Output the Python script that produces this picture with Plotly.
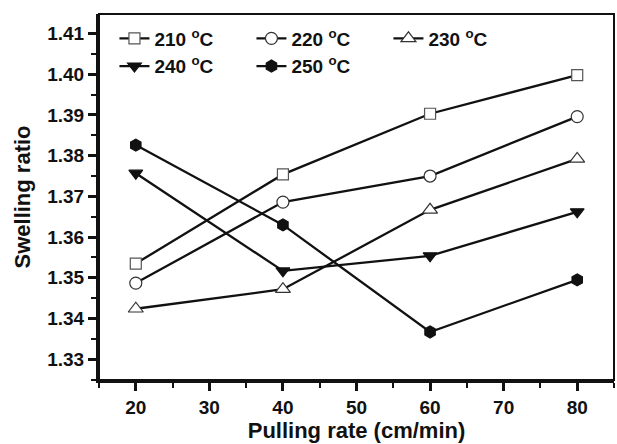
import plotly.graph_objects as go

# Pulling rate (cm/min) and swelling ratio at each die temperature
pulling_rate = [20, 40, 60, 80]
swell_210 = [1.3535, 1.3754, 1.3903, 1.3998]
swell_220 = [1.3487, 1.3686, 1.3750, 1.3896]
swell_230 = [1.3424, 1.3472, 1.3667, 1.3792]
swell_240 = [1.3757, 1.3517, 1.3554, 1.3662]
swell_250 = [1.3826, 1.3630, 1.3367, 1.3495]

series_names = ["210 <sup>o</sup>C", "220 <sup>o</sup>C", "230 <sup>o</sup>C",
                "240 <sup>o</sup>C", "250 <sup>o</sup>C"]
series_values = [swell_210, swell_220, swell_230, swell_240, swell_250]
symbols = ["square", "circle", "triangle-up", "triangle-down", "hexagon"]
fills = ["white", "white", "white", "#111111", "#111111"]
edges = ["#555555", "#333333", "#333333", "#111111", "#111111"]
sizes = [11, 12, 13, 12, 12]

x_ticks = [20, 30, 40, 50, 60, 70, 80]
y_ticks = [1.33, 1.34, 1.35, 1.36, 1.37, 1.38, 1.39, 1.40, 1.41]

FONT = "Liberation Sans, Arial, sans-serif"

fig = go.Figure()
for name, vals, sym, fc, ec, sz in zip(series_names, series_values, symbols, fills, edges, sizes):
    fig.add_trace(go.Scatter(
        x=pulling_rate, y=vals, name=name, mode="lines+markers",
        line=dict(color="#111111", width=2.3),
        marker=dict(symbol=sym, size=sz, color=fc, line=dict(color=ec, width=1.2)),
    ))

axis_common = dict(
    showgrid=False, zeroline=False, showline=True, linecolor="#111111", linewidth=3,
    ticks="outside", ticklen=8, tickwidth=2.5, tickcolor="#111111",
    tickfont=dict(family=FONT, size=19, color="#111111", weight="bold"),
)

fig.update_xaxes(
    range=[15, 85], tickvals=x_ticks, ticktext=[str(v) for v in x_ticks],
    minor=dict(dtick=5, tick0=15, ticks="outside", ticklen=5, tickwidth=2, tickcolor="#111111"),
    title=dict(text="Pulling rate (cm/min)",
               font=dict(family=FONT, size=22, color="#111111", weight="bold"), standoff=5),
    **axis_common,
)
fig.update_yaxes(
    range=[1.3249, 1.4148], tickvals=y_ticks, ticktext=[f"{v:.2f}" for v in y_ticks],
    minor=dict(dtick=0.005, tick0=1.325, ticks="outside", ticklen=5, tickwidth=2, tickcolor="#111111"),
    title=dict(text="Swelling ratio",
               font=dict(family=FONT, size=22, color="#111111", weight="bold"), standoff=11),
    **axis_common,
)

# Thin frame around the plotting area
fig.add_shape(type="rect", xref="paper", yref="paper", x0=0, y0=0, x1=1, y1=1,
              line=dict(color="#111111", width=2), layer="above")

fig.update_layout(
    width=617, height=444,
    margin=dict(l=99, r=3, t=14, b=64),
    paper_bgcolor="white", plot_bgcolor="white",
    font=dict(family=FONT, color="#111111"),
    legend=dict(
        orientation="h", x=0.03, y=0.985, xanchor="left", yanchor="top",
        entrywidth=92, entrywidthmode="pixels",
        font=dict(family=FONT, size=19, color="#111111", weight="bold"),
        bgcolor="rgba(0,0,0,0)", tracegroupgap=0,
    ),
)

fig.write_html("out.html")
